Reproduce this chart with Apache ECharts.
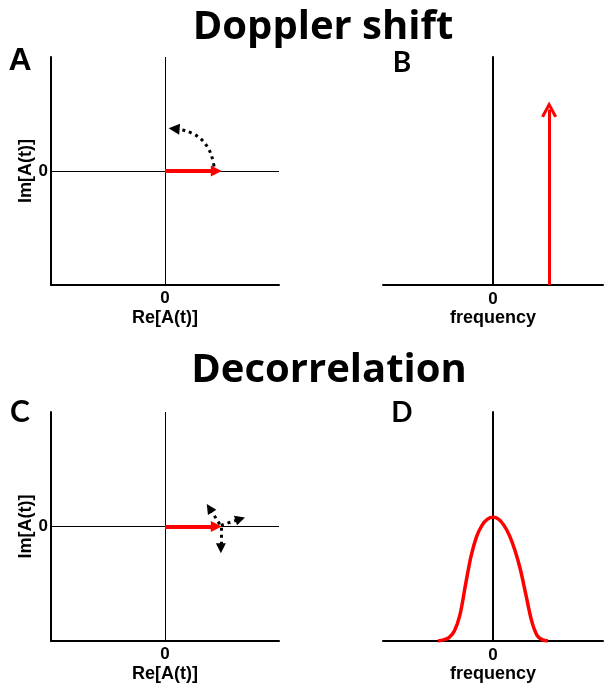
<!DOCTYPE html>
<html>
<head>
<meta charset="utf-8">
<script src="https://cdn.jsdelivr.net/npm/echarts@6/dist/echarts.min.js"></script>
<style>
html, body { margin: 0; padding: 0; background: #fff; }
#chart { width: 606px; height: 685px; }
</style>
</head>
<body>
<div id="chart"></div>
<script>
var titles = ['Doppler shift', 'Decorrelation'];
var panelLetters = ['A', 'B', 'C', 'D'];
var reLabel = 'Re[A(t)]';
var imLabel = 'Im[A(t)]';
var freqLabel = 'frequency';

// red phasor in A and C (origin -> tip)
var phasor = [[0, 0], [0.45, 0]];
// dotted rotation arrow in A
var rotationArc = [[0.43, 0.04], [0.08, 0.37]];
// dotted jitter arrows in C
var jitterArrows = [
    [[0.48, 0.02], [0.39, 0.16]],
    [[0.49, 0.01], [0.66, 0.065]],
    [[0.49, -0.01], [0.49, -0.19]]
];
// single spectral line in B
var dopplerLine = [[0.51, 0], [0.51, 0.77]];
// broadened spectrum in D
var spectrumX = [-0.50, -0.45, -0.40, -0.35, -0.30, -0.25, -0.20, -0.15, -0.10, -0.05, 0.00, 0.05, 0.10, 0.15, 0.20, 0.25, 0.30, 0.35, 0.40, 0.45, 0.50];
var spectrumY = [0.0, 0.005, 0.015, 0.045, 0.115, 0.245, 0.37, 0.455, 0.505, 0.532, 0.54, 0.532, 0.505, 0.46, 0.395, 0.31, 0.20, 0.09, 0.025, 0.005, 0.0];

var chart = echarts.init(document.getElementById('chart'));

var black = '#000';
var red = '#ff0000';
var tickFont = { color: black, fontFamily: 'Liberation Sans', fontWeight: 'bold', fontSize: 17 };
var nameFont = { color: black, fontFamily: 'Liberation Sans', fontWeight: 'bold', fontSize: 18 };
var zeroOnly = function (v) { return v === 0 ? '0' : ''; };

var grids = [
    { left: 51, top: 57, width: 228, height: 228 },
    { left: 383, top: 57, width: 230, height: 228 },
    { left: 51, top: 412, width: 228, height: 229 },
    { left: 383, top: 412, width: 230, height: 229 }
];

function phasorX(i) {
    return {
        gridIndex: i, type: 'value', min: -1, max: 1, interval: 1,
        axisLine: { onZero: false, lineStyle: { color: black, width: 2 } },
        axisTick: { show: false }, splitLine: { show: false },
        axisLabel: Object.assign({ formatter: zeroOnly, margin: 5 }, tickFont),
        name: reLabel, nameLocation: 'middle', nameGap: 24, nameTextStyle: nameFont
    };
}
function phasorY(i) {
    return {
        gridIndex: i, type: 'value', min: -1, max: 1, interval: 1,
        axisLine: { onZero: false, lineStyle: { color: black, width: 2 } },
        axisTick: { show: false }, splitLine: { show: false },
        axisLabel: Object.assign({ formatter: zeroOnly, margin: 3 }, tickFont),
        name: imLabel, nameLocation: 'middle', nameGap: 16, nameRotate: 90, nameTextStyle: nameFont
    };
}
function specX(i) {
    return {
        gridIndex: i, type: 'value', min: -1, max: 1, interval: 1,
        axisLine: { lineStyle: { color: black, width: 2 } },
        axisTick: { show: false }, splitLine: { show: false },
        axisLabel: Object.assign({ formatter: zeroOnly, margin: 6 }, tickFont),
        name: freqLabel, nameLocation: 'middle', nameGap: 24, nameTextStyle: nameFont
    };
}
function specY(i) {
    return {
        gridIndex: i, type: 'value', min: 0, max: 1,
        axisLine: { onZero: true, lineStyle: { color: black, width: 2 } },
        axisTick: { show: false }, splitLine: { show: false }, axisLabel: { show: false }
    };
}

function zeroLines(i) {
    return {
        type: 'scatter', xAxisIndex: i, yAxisIndex: i, data: [[0, 0]], symbolSize: 0, silent: true,
        markLine: {
            silent: true, symbol: 'none', label: { show: false },
            lineStyle: { color: black, width: 1, type: 'solid' },
            data: [{ xAxis: 0 }, { yAxis: 0 }]
        }
    };
}
function arrows(i, list, color, width, dash, curve, size, sym) {
    return {
        type: 'lines', coordinateSystem: 'cartesian2d', xAxisIndex: i, yAxisIndex: i, silent: true,
        symbol: ['none', sym || 'triangle'], symbolSize: size, z: 5,
        lineStyle: { color: color, width: width, type: dash, opacity: 1, curveness: curve, cap: 'butt' },
        data: list.map(function (c) { return { coords: c }; })
    };
}

var specData = spectrumX.map(function (x, k) { return [x, spectrumY[k]]; });

function txt(str, x, y, font, size) {
    return {
        type: 'text', x: x, y: y,
        style: { text: str, fill: black, font: 'bold ' + size + 'px ' + font, textAlign: 'center', textVerticalAlign: 'middle' }
    };
}

var option = {
    animation: false,
    backgroundColor: '#fff',
    grid: grids,
    xAxis: [phasorX(0), specX(1), phasorX(2), specX(3)],
    yAxis: [phasorY(0), specY(1), phasorY(2), specY(3)],
    graphic: [
        txt(titles[0], 323, 28, '"Open Sans"', 40),
        txt(titles[1], 329, 371, '"Open Sans"', 40),
        txt(panelLetters[0], 20, 61, '"Liberation Sans"', 32),
        txt(panelLetters[1], 402, 63, 'Lato', 28),
        txt(panelLetters[2], 20, 412, 'Lato', 30),
        txt(panelLetters[3], 402, 413, 'Lato', 28)
    ],
    series: [
        zeroLines(0),
        arrows(0, [phasor], red, 4, 'solid', 0, 11),
        arrows(0, [rotationArc], black, 3, [3, 4], -0.4, 11),
        arrows(1, [dopplerLine], red, 3, 'solid', 0, 16, 'path://M0,12 L7,0 L14,12 L11.5,13 L7,5 L2.5,13 Z'),
        zeroLines(2),
        arrows(2, [phasor], red, 4, 'solid', 0, 11),
        arrows(2, jitterArrows, black, 3, [3, 4], 0, 10),
        {
            type: 'line', xAxisIndex: 3, yAxisIndex: 3, data: specData, smooth: 0.3,
            showSymbol: false, silent: true, lineStyle: { color: red, width: 3.5 }
        }
    ]
};
chart.setOption(option);
window.onresize = chart.resize;
</script>
</body>
</html>
